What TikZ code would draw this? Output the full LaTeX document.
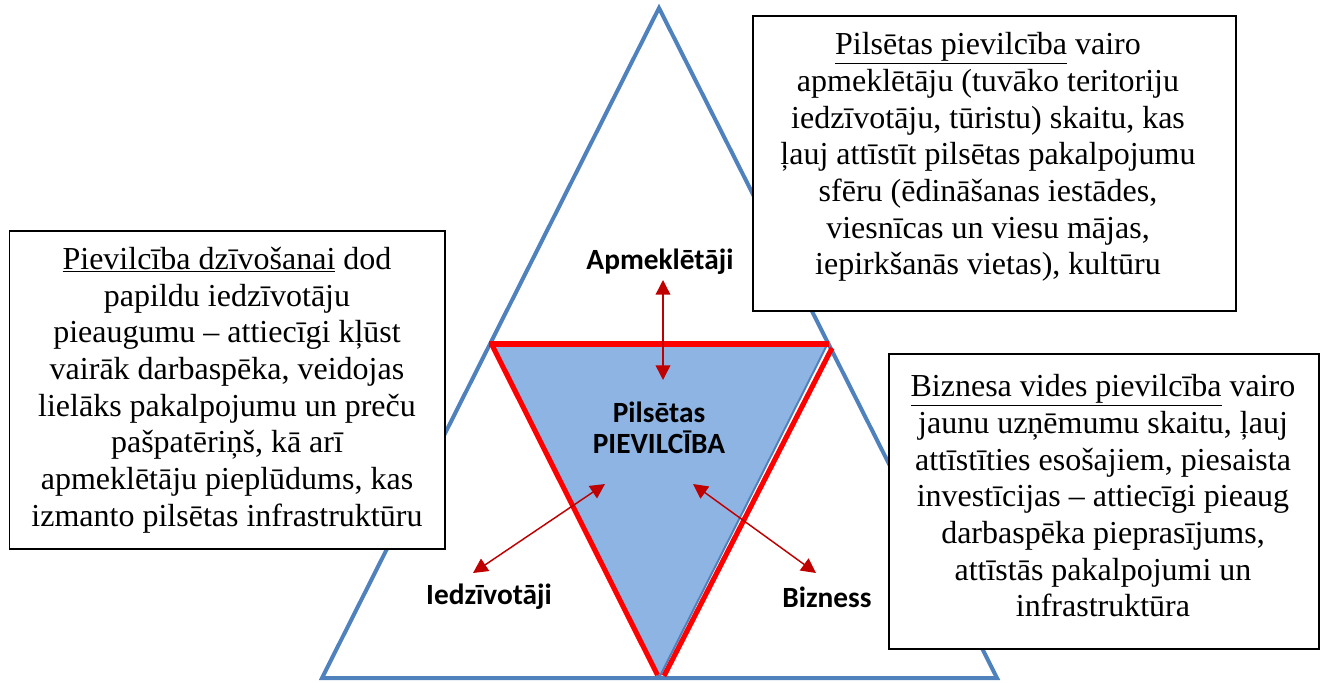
\documentclass[tikz,border=0pt]{standalone}
\usepackage{fontspec}
\setmainfont{Liberation Serif}
\newfontfamily\carl{Carlito}
\usetikzlibrary{arrows.meta}
\definecolor{triblue}{HTML}{4F81BD}
\definecolor{trifill}{HTML}{8EB4E3}
\definecolor{arrred}{HTML}{C00000}
\definecolor{edgered}{HTML}{FF0000}
\begin{document}
\begin{tikzpicture}[x=0.75pt,y=-0.75pt,
  txtbox/.style={draw=black,line width=1.1pt,fill=white,inner sep=0pt},
  boxtext/.style={align=center,font=\fontsize{24}{27.5}\selectfont,inner sep=0pt},
  lbl/.style={font=\carl\bfseries\fontsize{22}{26}\selectfont,inner sep=0pt},
  dbl/.style={draw=arrred,line width=1.1pt,{Triangle[width=11pt,length=11pt]}-{Triangle[width=11pt,length=11pt]}}]
\useasboundingbox (0,0) rectangle (1324,682);
% outer triangle
\coordinate (apex) at (659,8);
\coordinate (bl) at (322,678);
\coordinate (br) at (997,678);
\draw[triblue,line width=3pt,line join=miter] (apex) -- (br) -- (bl) -- cycle;
% inner triangle
\coordinate (ml) at (490.5,343);
\coordinate (mr) at (828,343);
\coordinate (mb) at (659,678);
\fill[trifill,draw=triblue,line width=1.5pt] (ml) -- (mr) -- (mb) -- cycle;
\draw[edgered,line width=3.8pt,line cap=butt] (489,344) -- (829,344);
\draw[edgered,line width=3.8pt] (492,345) -- (657.5,675);
\draw[edgered,line width=3.8pt] (832,348) -- (664,676);
% boxes
\node[txtbox,minimum width=326.6pt,minimum height=238.5pt] (lbox) at (227.25,390) {};
\node[txtbox,minimum width=362.25pt,minimum height=221.25pt] (tbox) at (994.5,163.5) {};
\node[txtbox,minimum width=322.5pt,minimum height=221.25pt] (rbox) at (1104,501.5) {};
\node[boxtext] (ltext) at (227,390) {\underline{Pievilcība dzīvošanai} dod\\papildu iedzīvotāju\\pieaugumu – attiecīgi kļūst\\vairāk darbaspēka, veidojas\\lielāks pakalpojumu un preču\\pašpatēriņš, kā arī\\apmeklētāju pieplūdums, kas\\izmanto pilsētas infrastruktūru};
\node[boxtext] (ttext) at (988,157) {\underline{Pilsētas pievilcība} vairo\\apmeklētāju (tuvāko teritoriju\\iedzīvotāju, tūristu) skaitu, kas\\ļauj attīstīt pilsētas pakalpojumu\\sfēru (ēdināšanas iestādes,\\viesnīcas un viesu mājas,\\iepirkšanās vietas), kultūru};
\node[boxtext] (rtext) at (1103,496) {\underline{Biznesa vides pievilcība} vairo\\jaunu uzņēmumu skaitu, ļauj\\attīstīties esošajiem, piesaista\\investīcijas – attiecīgi pieaug\\darbaspēka pieprasījums,\\attīstās pakalpojumi un\\infrastruktūra};
% labels
\node[lbl] (apm) at (660,262) {Apmeklētāji};
\node[lbl,align=center,font=\carl\bfseries\fontsize{22}{23.5}\selectfont] (center) at (659,428) {Pilsētas\\PIEVILCĪBA};
\node[lbl] (iedz) at (489,597) {Iedzīvotāji};
\node[lbl] (biz) at (827,597) {Bizness};
% arrows
\coordinate (vt) at (663,280);
\coordinate (vb) at (663,380);
\coordinate (lt) at (605,484);
\coordinate (lb) at (473,573);
\coordinate (rt) at (693,484);
\coordinate (rb) at (816,573);
\draw[dbl] (vt) -- (vb);
\draw[dbl] (lt) -- (lb);
\draw[dbl] (rt) -- (rb);
\end{tikzpicture}
\end{document}
